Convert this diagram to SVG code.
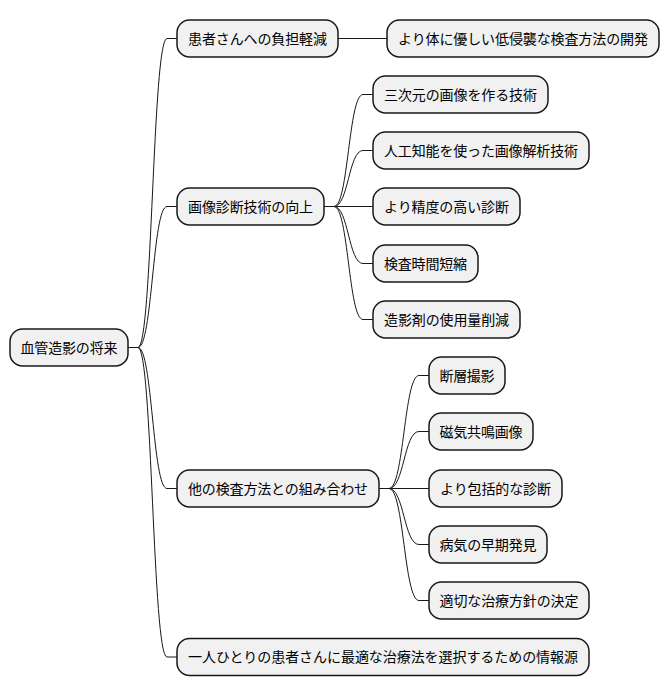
<svg xmlns="http://www.w3.org/2000/svg" width="670" height="696" viewBox="0 0 670 696">
<style>
.n rect{fill:#F1F1F1;stroke:#181818;stroke-width:1.5}
.n text{font-family:"Noto Sans CJK JP","Noto Sans CJK SC",sans-serif;font-size:14px;fill:#000;text-anchor:middle}
#links path{fill:none;stroke:#181818;stroke-width:1}
</style>
<rect width="670" height="696" fill="#fff"/>
<g id="links">
<path d="M128,347.5 H138 C152.5,347.5 152.5,38.5 167,38.5 H177"/>
<path d="M128,347.5 H138 C152.5,347.5 152.5,206.5 167,206.5 H177"/>
<path d="M128,347.5 H138 C152.5,347.5 152.5,488.5 167,488.5 H177"/>
<path d="M128,347.5 H138 C152.5,347.5 152.5,657 167,657 H177"/>
<path d="M338,38.5 H387"/>
<path d="M324,206.5 H334 C348.5,206.5 348.5,94.5 363,94.5 H373"/>
<path d="M324,206.5 H334 C348.5,206.5 348.5,150.5 363,150.5 H373"/>
<path d="M324,206.5 H373"/>
<path d="M324,206.5 H334 C348.5,206.5 348.5,263.5 363,263.5 H373"/>
<path d="M324,206.5 H334 C348.5,206.5 348.5,319.5 363,319.5 H373"/>
<path d="M379,488.5 H389 C404,488.5 404,375.5 419,375.5 H429"/>
<path d="M379,488.5 H389 C404,488.5 404,431.5 419,431.5 H429"/>
<path d="M379,488.5 H429"/>
<path d="M379,488.5 H389 C404,488.5 404,544.5 419,544.5 H429"/>
<path d="M379,488.5 H389 C404,488.5 404,600.5 419,600.5 H429"/>
</g>
<g id="root" class="n"><rect x="10" y="329" width="118" height="37" rx="12.5"/><text x="69" y="352.5" textLength="97">血管造影の将来</text></g>
<g id="n1" class="n"><rect x="177" y="20" width="161" height="37" rx="12.5"/><text x="257.5" y="43.5" textLength="139">患者さんへの負担軽減</text></g>
<g id="n1a" class="n"><rect x="387" y="20" width="272" height="37" rx="12.5"/><text x="523" y="43.5" textLength="250">より体に優しい低侵襲な検査方法の開発</text></g>
<g id="n2" class="n"><rect x="177" y="188" width="147" height="37" rx="12.5"/><text x="250.5" y="211.5" textLength="125">画像診断技術の向上</text></g>
<g id="n2a" class="n"><rect x="373" y="76" width="175" height="37" rx="12.5"/><text x="460.5" y="99.5" textLength="153">三次元の画像を作る技術</text></g>
<g id="n2b" class="n"><rect x="373" y="132" width="216" height="37" rx="12.5"/><text x="481" y="155.5" textLength="194">人工知能を使った画像解析技術</text></g>
<g id="n2c" class="n"><rect x="373" y="188" width="147" height="37" rx="12.5"/><text x="446.5" y="211.5" textLength="125">より精度の高い診断</text></g>
<g id="n2d" class="n"><rect x="373" y="245" width="105" height="37" rx="12.5"/><text x="425.5" y="268.5" textLength="83">検査時間短縮</text></g>
<g id="n2e" class="n"><rect x="373" y="301" width="147" height="37" rx="12.5"/><text x="446.5" y="324.5" textLength="125">造影剤の使用量削減</text></g>
<g id="n3" class="n"><rect x="177" y="470" width="202" height="37" rx="12.5"/><text x="278" y="493.5" textLength="180">他の検査方法との組み合わせ</text></g>
<g id="n3a" class="n"><rect x="429" y="357" width="76" height="37" rx="12.5"/><text x="467" y="380.5" textLength="55">断層撮影</text></g>
<g id="n3b" class="n"><rect x="429" y="413" width="104" height="37" rx="12.5"/><text x="481" y="436.5" textLength="83">磁気共鳴画像</text></g>
<g id="n3c" class="n"><rect x="429" y="470" width="133" height="37" rx="12.5"/><text x="495.5" y="493.5" textLength="111">より包括的な診断</text></g>
<g id="n3d" class="n"><rect x="429" y="526" width="118" height="37" rx="12.5"/><text x="488" y="549.5" textLength="97">病気の早期発見</text></g>
<g id="n3e" class="n"><rect x="429" y="582" width="160" height="37" rx="12.5"/><text x="509" y="605.5" textLength="139">適切な治療方針の決定</text></g>
<g id="n4" class="n"><rect x="177" y="638.5" width="412" height="37" rx="12.5"/><text x="383" y="662" textLength="390">一人ひとりの患者さんに最適な治療法を選択するための情報源</text></g>
</svg>
